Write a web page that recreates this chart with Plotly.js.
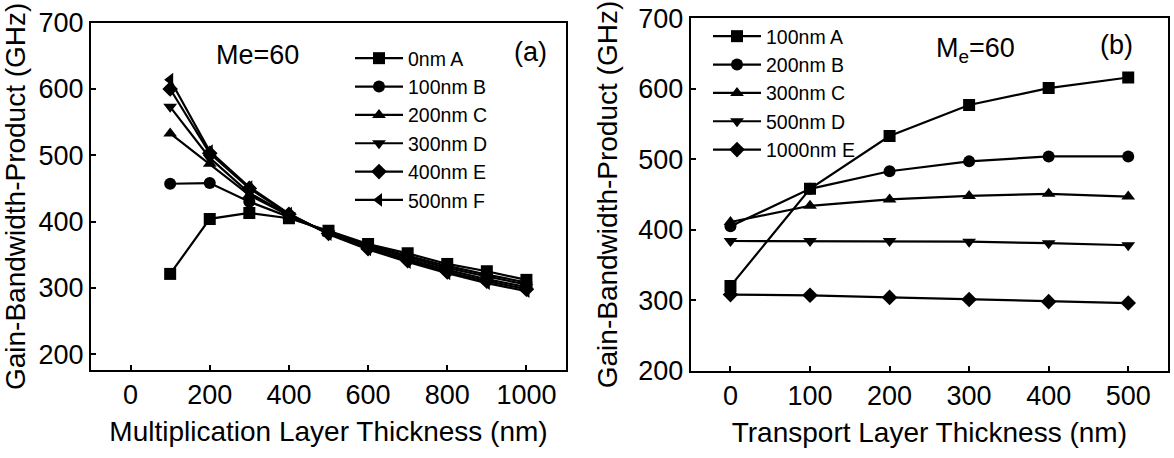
<!DOCTYPE html>
<html>
<head>
<meta charset="utf-8">
<script src="https://cdn.plot.ly/plotly-3.0.1.min.js"></script>
<style>html,body{margin:0;padding:0;background:#fff;}#chart{width:1174px;height:458px;}</style>
</head>
<body>
<div id="chart"></div>
<script>
// Panel (a): GBP vs multiplication layer thickness, one series per transport layer thickness
const multThickness = [100, 200, 300, 400, 500, 600, 700, 800, 900, 1000];
const seriesA_names = ["0nm A", "100nm B", "200nm C", "300nm D", "400nm E", "500nm F"];
const a_0nm   = [321, 404, 413, 405, 386, 366, 352, 336, 325, 312];
const a_100nm = [457, 458, 430, 407, 384, 364, 348, 333, 320, 308];
const a_200nm = [533, 487, 440, 409, 383, 362, 346, 330, 317, 305];
const a_300nm = [573, 496, 443, 410, 382, 360, 343, 327, 313, 301];
const a_400nm = [600, 503, 450, 411, 382, 359, 341, 324, 310, 298];
const a_500nm = [614, 506, 452, 412, 381, 358, 339, 322, 307, 295];

// Panel (b): GBP vs transport layer thickness, one series per multiplication layer thickness
const transThickness = [0, 100, 200, 300, 400, 500];
const seriesB_names = ["100nm A", "200nm B", "300nm C", "500nm D", "1000nm E"];
const b_100nm  = [320, 458, 533, 577, 601, 616];
const b_200nm  = [405, 458, 483, 497, 504, 504];
const b_300nm  = [411, 434, 443, 448, 451, 447];
const b_500nm  = [384, 384, 384, 383, 381, 378];
const b_1000nm = [308, 307, 304, 301, 298, 296];

const xTicksA = [0, 200, 400, 600, 800, 1000];
const xTicksB = [0, 100, 200, 300, 400, 500];
const yTicks = [200, 300, 400, 500, 600, 700];

const symbolsA = ["square", "circle", "triangle-up", "triangle-down", "diamond", "triangle-left"];
const symbolsB = ["square", "circle", "triangle-up", "triangle-down", "diamond"];

const FONT = "Liberation Sans, Arial, Helvetica, sans-serif";
const W = 1174, H = 458;
const px = v => v / W;
const py = v => 1 - v / H;

const dataA = [a_0nm, a_100nm, a_200nm, a_300nm, a_400nm, a_500nm];
const dataB = [b_100nm, b_200nm, b_300nm, b_500nm, b_1000nm];

const traces = [];
dataA.forEach((ys, i) => {
  traces.push({
    x: multThickness, y: ys, name: seriesA_names[i], type: "scatter", mode: "lines+markers",
    xaxis: "x", yaxis: "y", legend: "legend",
    line: {color: "#000", width: 2.2},
    marker: {symbol: symbolsA[i], size: 12, color: "#000"}
  });
});
dataB.forEach((ys, i) => {
  traces.push({
    x: transThickness, y: ys, name: seriesB_names[i], type: "scatter", mode: "lines+markers",
    xaxis: "x2", yaxis: "y2", legend: "legend2",
    line: {color: "#000", width: 2.2},
    marker: {symbol: symbolsB[i], size: 12, color: "#000"}
  });
});

const axisCommon = {
  showline: true, linecolor: "#000", linewidth: 2, mirror: true,
  ticks: "inside", ticklen: 5, tickwidth: 2, tickcolor: "#000",
  showgrid: false, zeroline: false,
  tickfont: {family: FONT, size: 27, color: "#000"}
};

const titleFont = {family: FONT, size: 28, color: "#000"};
const legendFont = {family: FONT, size: 19.5, color: "#000"};

const layout = {
  width: W, height: H,
  margin: {l: 0, r: 0, t: 0, b: 0},
  paper_bgcolor: "#fff", plot_bgcolor: "#fff",
  font: {family: FONT, color: "#000"},
  xaxis: Object.assign({}, axisCommon, {
    domain: [px(91), px(566)], range: [-100, 1100], tickvals: xTicksA, anchor: "y",
    title: {text: "Multiplication Layer Thickness (nm)", font: titleFont, standoff: 12}
  }),
  yaxis: Object.assign({}, axisCommon, {
    domain: [py(370), py(22.7)], range: [176, 700], tickvals: yTicks, anchor: "x",
    title: {text: "Gain-Bandwidth-Product (GHz)", font: titleFont, standoff: 12}
  }),
  xaxis2: Object.assign({}, axisCommon, {
    domain: [px(690.7), px(1168)], range: [-50, 550], tickvals: xTicksB, anchor: "y2",
    title: {text: "Transport Layer Thickness (nm)", font: titleFont, standoff: 12}
  }),
  yaxis2: Object.assign({}, axisCommon, {
    domain: [py(370.7), py(18.3)], range: [200, 700], tickvals: yTicks, anchor: "x2",
    title: {text: "Gain-Bandwidth-Product (GHz)", font: titleFont, standoff: 12}
  }),
  showlegend: true,
  legend: {
    x: px(350), y: py(39), xanchor: "left", yanchor: "top",
    bgcolor: "rgba(0,0,0,0)", borderwidth: 0, itemwidth: 48,
    font: legendFont, tracegroupgap: 0
  },
  legend2: {
    x: px(708), y: py(17), xanchor: "left", yanchor: "top",
    bgcolor: "rgba(0,0,0,0)", borderwidth: 0, itemwidth: 48,
    font: legendFont, tracegroupgap: 0
  },
  annotations: [
    {text: "Me=60", xref: "paper", yref: "paper", x: px(257), y: py(55), xanchor: "center", yanchor: "middle",
     showarrow: false, font: {family: FONT, size: 27, color: "#000"}},
    {text: "(a)", xref: "paper", yref: "paper", x: px(530), y: py(52), xanchor: "center", yanchor: "middle",
     showarrow: false, font: {family: FONT, size: 27, color: "#000"}},
    {text: "M<sub>e</sub>=60", xref: "paper", yref: "paper", x: px(975), y: py(50), xanchor: "center", yanchor: "middle",
     showarrow: false, font: {family: FONT, size: 27, color: "#000"}},
    {text: "(b)", xref: "paper", yref: "paper", x: px(1116), y: py(45), xanchor: "center", yanchor: "middle",
     showarrow: false, font: {family: FONT, size: 27, color: "#000"}}
  ]
};

Plotly.newPlot("chart", traces, layout, {staticPlot: true, displayModeBar: false});
</script>
</body>
</html>
